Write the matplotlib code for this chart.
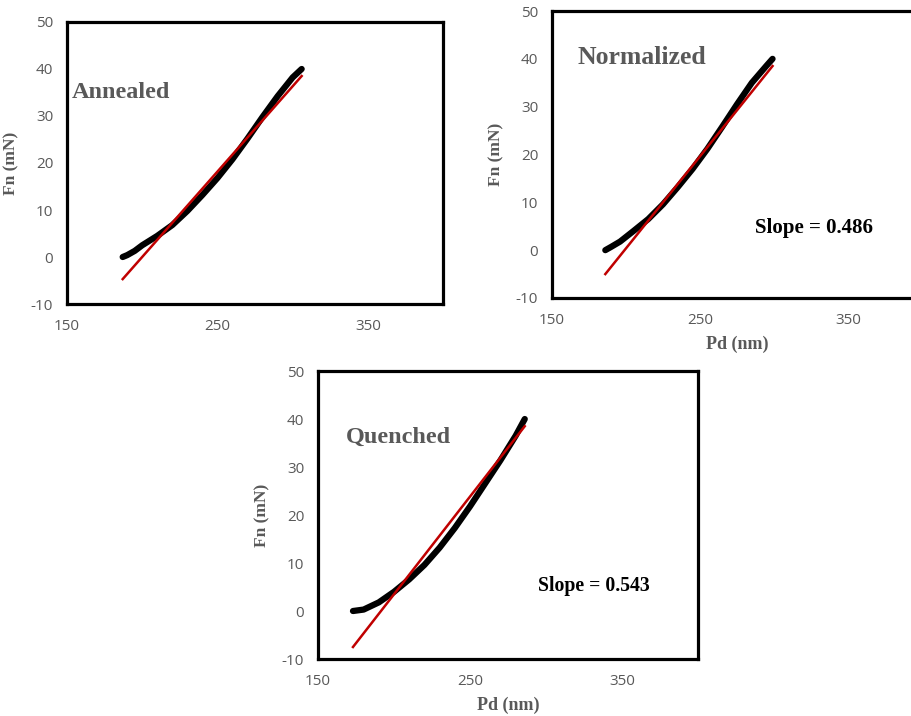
import matplotlib.pyplot as plt

plt.rcParams['axes.unicode_minus'] = False

# --- data ---
annealed_pd = [187, 190, 195, 200, 210, 220, 230, 240, 250, 260, 270, 280, 290, 300, 306]
annealed_fn = [0, 0.4, 1.3, 2.5, 4.5, 6.8, 9.8, 13.2, 16.8, 20.8, 25.2, 29.8, 34.2, 38.2, 40]
annealed_fit_pd = [187, 306]
annealed_fit_fn = [-4.7, 38.5]

normalized_pd = [186, 190, 196, 205, 215, 225, 235, 245, 255, 265, 275, 285, 295, 299]
normalized_fn = [0, 0.7, 1.8, 4.0, 6.5, 9.6, 13.2, 17.0, 21.2, 25.8, 30.5, 35.0, 38.6, 40]
normalized_fit_pd = [186, 299]
normalized_fit_fn = [-5.0, 38.5]

quenched_pd = [173, 180, 190, 200, 210, 220, 230, 240, 250, 260, 270, 280, 286]
quenched_fn = [0, 0.3, 1.8, 4.0, 6.6, 9.6, 13.2, 17.3, 21.8, 26.6, 31.4, 36.5, 40]
quenched_fit_pd = [173, 286]
quenched_fit_fn = [-7.5, 38.5]

x_ticks = [150, 250, 350]
y_ticks = [-10, 0, 10, 20, 30, 40, 50]

gray = '#595959'
serif = 'Liberation Serif'

fig = plt.figure(figsize=(9.12, 7.16), dpi=100)


def panel(rect, pd, fn, fit_pd, fit_fn, name, name_xy, name_size,
          slope=None, slope_xy=None, slope_size=14, xlabel=True):
    ax = fig.add_axes(rect)
    ax.plot(pd, fn, color='black', lw=4.5, solid_capstyle='round', solid_joinstyle='round', zorder=2)
    ax.plot(fit_pd, fit_fn, color='#c00000', lw=1.8, zorder=3)
    ax.set_xlim(150, 400)
    ax.set_ylim(-10, 50)
    ax.set_xticks(x_ticks)
    ax.set_yticks(y_ticks)
    ax.tick_params(axis='y', length=0, labelsize=11, labelcolor=gray, pad=10)
    ax.tick_params(axis='x', length=0, labelsize=11, labelcolor=gray, pad=11)
    for lab in ax.get_xticklabels() + ax.get_yticklabels():
        lab.set_family('Open Sans')
    for s in ax.spines.values():
        s.set_linewidth(2.3)
        s.set_color('black')
    ax.set_ylabel('Fn (mN)', family=serif, weight='bold', fontsize=12.5, color=gray, labelpad=8)
    if xlabel:
        ax.set_xlabel('Pd (nm)', family=serif, weight='bold', fontsize=13, color=gray, labelpad=5)
    ax.text(name_xy[0], name_xy[1], name, family=serif, weight='bold', fontsize=name_size,
            color=gray, va='center', ha='left')
    if slope is not None:
        ax.text(slope_xy[0], slope_xy[1], slope, family=serif, weight='bold', fontsize=slope_size,
                color='black', va='center', ha='left')
    return ax


panel([0.0735, 0.5754, 0.4123, 0.3939], annealed_pd, annealed_fn,
      annealed_fit_pd, annealed_fit_fn, 'Annealed', (153, 35), 17.5, xlabel=False)
panel([0.6053, 0.5838, 0.4057, 0.4008], normalized_pd, normalized_fn,
      normalized_fit_pd, normalized_fit_fn, 'Normalized', (167, 40.2), 18.5,
      'Slope = 0.486', (287, 4.6), 15)
panel([0.3487, 0.0796, 0.4167, 0.4022], quenched_pd, quenched_fn,
      quenched_fit_pd, quenched_fit_fn, 'Quenched', (168, 36.2), 17.5,
      'Slope = 0.543', (295, 5.2), 14.2)

fig.savefig('out.png', dpi=100)
